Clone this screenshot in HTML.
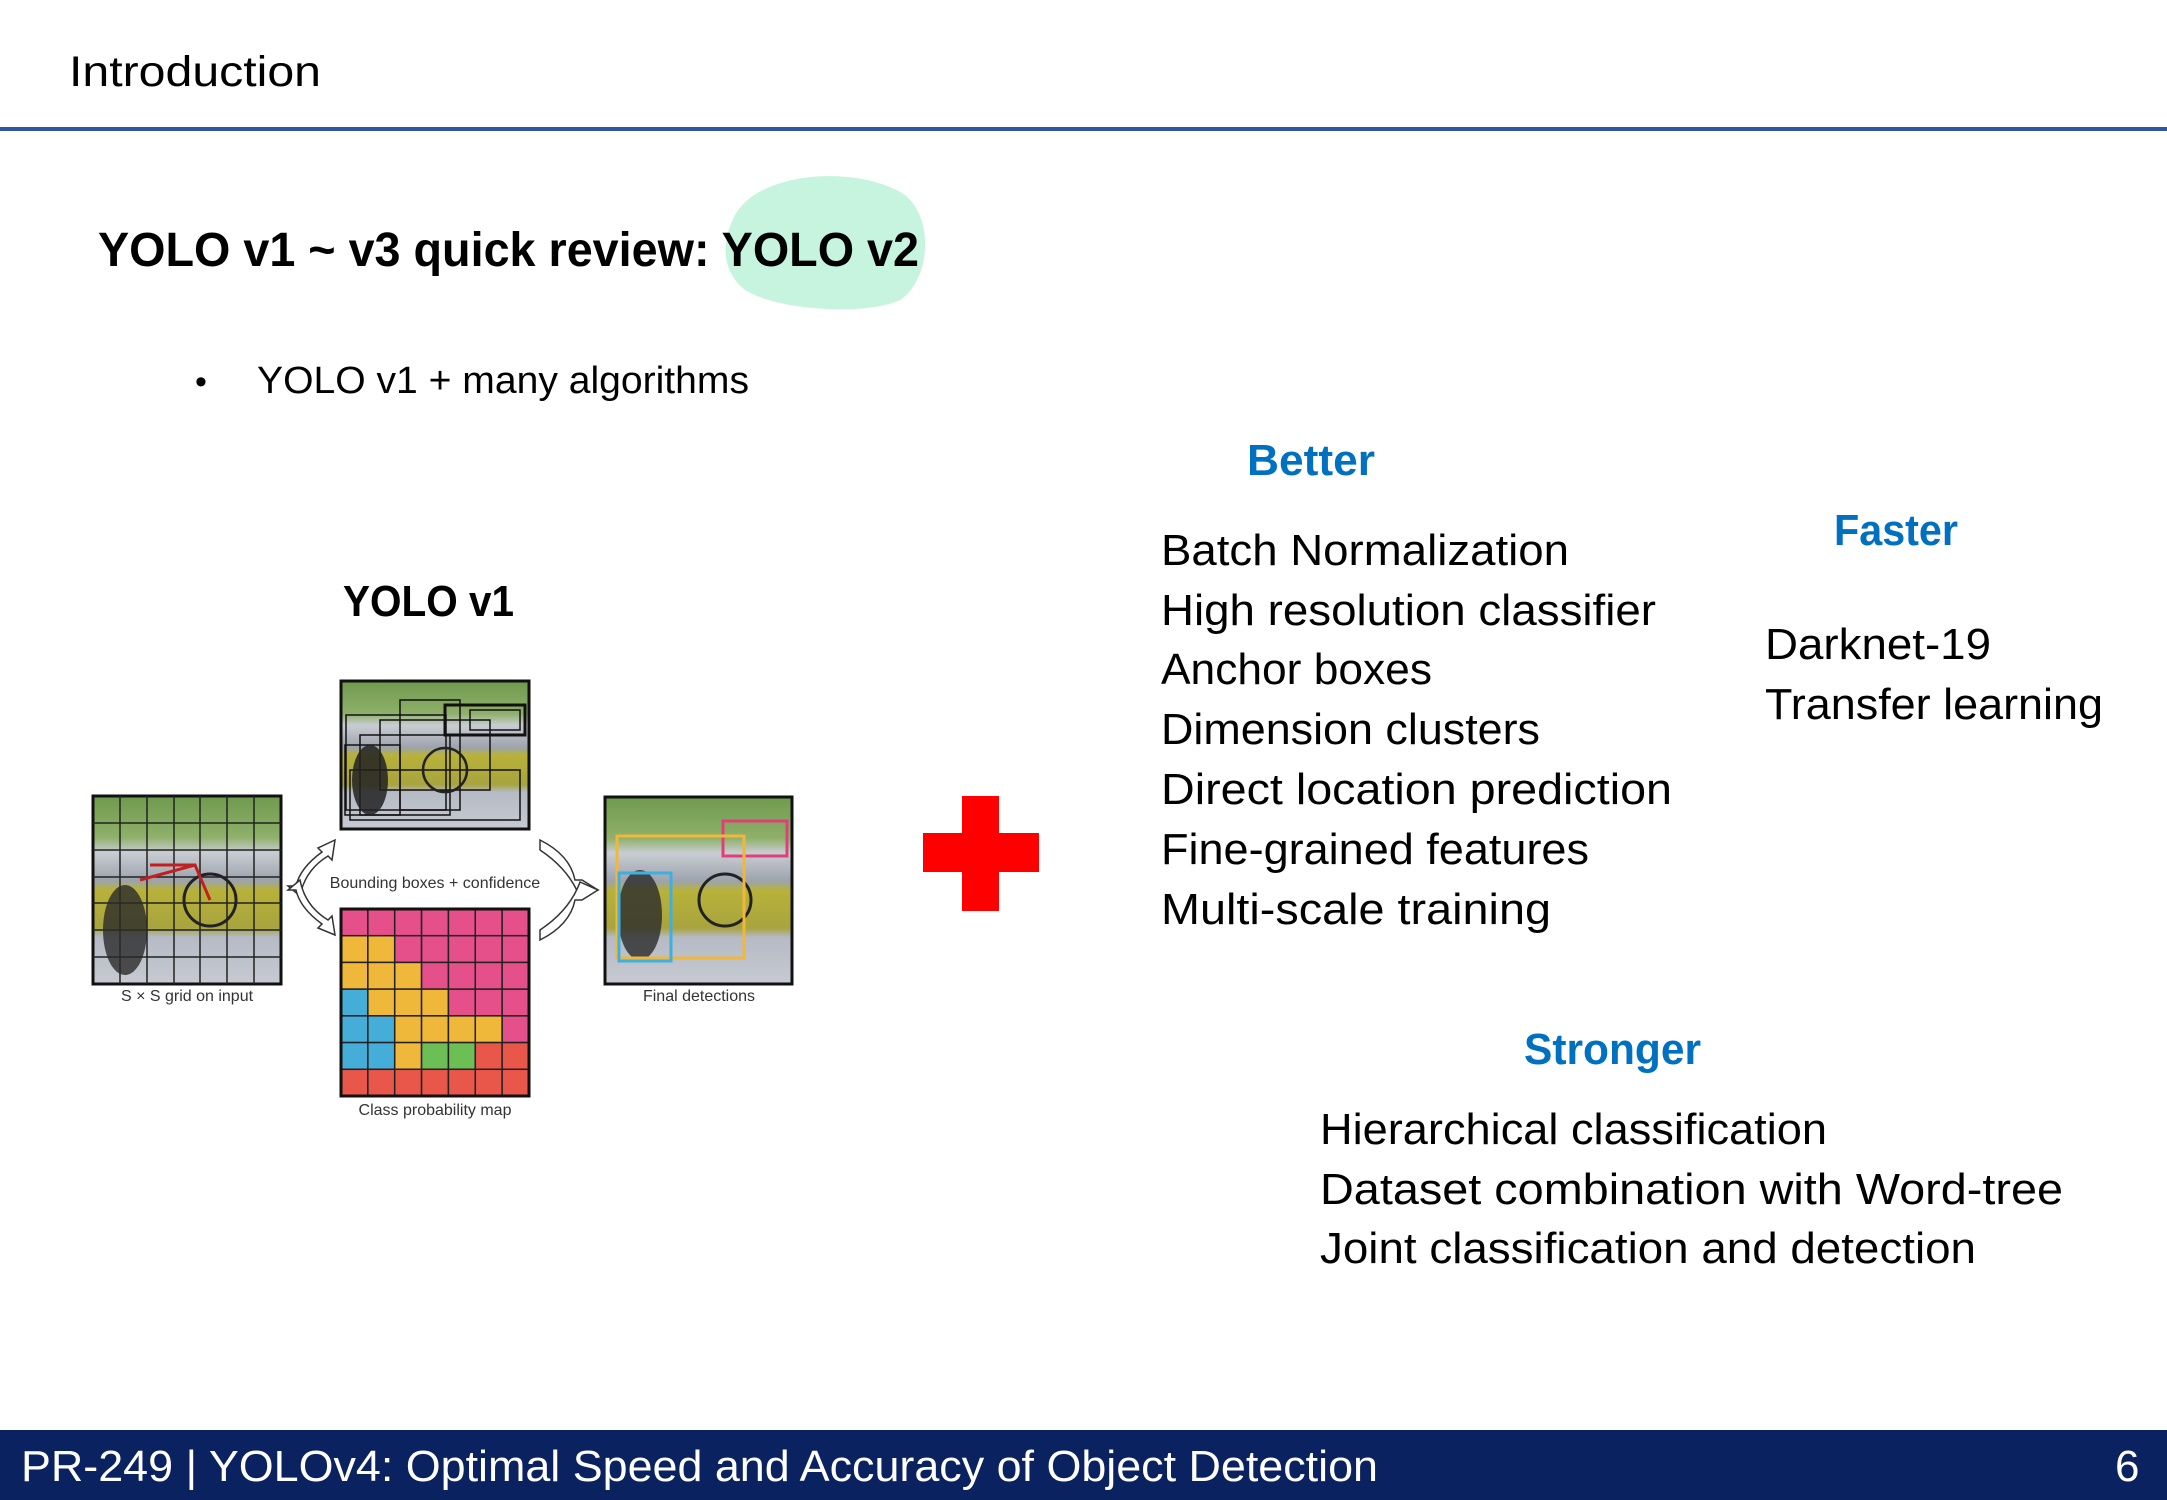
<!DOCTYPE html>
<html><head><meta charset="utf-8"><style>
html,body{margin:0;padding:0;background:#fff;}
svg{display:block;font-family:"Liberation Sans",sans-serif;}
</style></head><body>
<svg width="2167" height="1500" viewBox="0 0 2167 1500">
<defs>
<linearGradient id="photo" x1="0" y1="0" x2="0" y2="1">
<stop offset="0" stop-color="#6f9a4e"/><stop offset="0.22" stop-color="#8fb06a"/>
<stop offset="0.3" stop-color="#c9cdd3"/><stop offset="0.45" stop-color="#9da3ad"/>
<stop offset="0.5" stop-color="#b8b23a"/><stop offset="0.7" stop-color="#a8a43e"/>
<stop offset="0.75" stop-color="#b5bac4"/><stop offset="1" stop-color="#c6cad2"/>
</linearGradient>
</defs>
<text x="69" y="86" font-size="43" fill="#000" textLength="252" lengthAdjust="spacingAndGlyphs">Introduction</text>
<rect x="0" y="127" width="2167" height="4" fill="#2f55a4"/>

<path d="M735,215 C760,170 860,165 905,195 C935,220 930,280 900,300 C870,315 780,312 745,290 C720,270 722,240 735,215 Z" fill="#c6f4df"/>
<text x="98" y="266" font-size="48" font-weight="bold" fill="#000" textLength="821" lengthAdjust="spacingAndGlyphs">YOLO v1 ~ v3 quick review: YOLO v2</text>

<text x="195" y="393" font-size="34" fill="#000">•</text>
<text x="257" y="393" font-size="38" fill="#000" textLength="492" lengthAdjust="spacingAndGlyphs">YOLO v1 + many algorithms</text>

<text x="343" y="616" font-size="44" font-weight="bold" fill="#000" textLength="171" lengthAdjust="spacingAndGlyphs">YOLO v1</text>

<g>
 <g>
  <rect x="93" y="796" width="188" height="188" fill="url(#photo)" stroke="#111" stroke-width="3"/>
  <g stroke="#222" stroke-width="1.5">
   <line x1="120" y1="796" x2="120" y2="984"/><line x1="147" y1="796" x2="147" y2="984"/><line x1="174" y1="796" x2="174" y2="984"/><line x1="200" y1="796" x2="200" y2="984"/><line x1="227" y1="796" x2="227" y2="984"/><line x1="254" y1="796" x2="254" y2="984"/>
   <line x1="93" y1="823" x2="281" y2="823"/><line x1="93" y1="850" x2="281" y2="850"/><line x1="93" y1="877" x2="281" y2="877"/><line x1="93" y1="903" x2="281" y2="903"/><line x1="93" y1="930" x2="281" y2="930"/><line x1="93" y1="957" x2="281" y2="957"/>
  </g>
  <ellipse cx="125" cy="930" rx="22" ry="45" fill="#2a2a2a" opacity="0.8"/>
  <circle cx="210" cy="900" r="26" fill="none" stroke="#222" stroke-width="3"/>
  <path d="M140,880 L195,865 L210,900 M150,865 L195,865" stroke="#c02020" stroke-width="3" fill="none"/>
 </g>
 <text x="187" y="1001" font-size="16" fill="#333" text-anchor="middle">S × S grid on input</text>

 <g>
  <rect x="341" y="681" width="188" height="148" fill="url(#photo)" stroke="#111" stroke-width="3"/>
  <g fill="none" stroke="#111" stroke-width="1.5">
   <rect x="346" y="715" width="100" height="95"/><rect x="360" y="735" width="90" height="80"/><rect x="345" y="745" width="55" height="70"/>
   <rect x="445" y="705" width="80" height="30" stroke-width="3"/><rect x="470" y="710" width="50" height="20"/><rect x="380" y="720" width="110" height="70"/>
   <rect x="400" y="700" width="60" height="110"/><rect x="350" y="770" width="170" height="50"/>
  </g>
  <ellipse cx="370" cy="780" rx="18" ry="35" fill="#222" opacity="0.85"/>
  <circle cx="445" cy="770" r="22" fill="none" stroke="#222" stroke-width="2.5"/>
 </g>
 <text x="435" y="888" font-size="16" fill="#333" text-anchor="middle">Bounding boxes + confidence</text>

 <g id="cpm"></g>
 <text x="435" y="1115" font-size="16" fill="#333" text-anchor="middle">Class probability map</text>

 <g>
  <rect x="605" y="797" width="187" height="187" fill="url(#photo)" stroke="#111" stroke-width="3"/>
  <ellipse cx="640" cy="915" rx="22" ry="45" fill="#2a2a2a" opacity="0.8"/>
  <circle cx="725" cy="900" r="26" fill="none" stroke="#222" stroke-width="3"/>
  <rect x="723" y="821" width="64" height="35" fill="none" stroke="#e0407a" stroke-width="3"/>
  <rect x="617" y="836" width="127" height="122" fill="none" stroke="#f2b73a" stroke-width="3"/>
  <rect x="619" y="873" width="52" height="88" fill="none" stroke="#3fb0dd" stroke-width="3"/>
 </g>
 <text x="699" y="1001" font-size="16" fill="#333" text-anchor="middle">Final detections</text>

 <g fill="#fff" stroke="#333" stroke-width="1.5">
  <path d="M335,840 L318,848 L322,852 Q300,868 296,886 L288,886 L300,896 Q305,870 328,856 L332,860 Z"/>
  <path d="M335,935 L318,928 L322,924 Q300,908 296,890 L288,890 L300,880 Q305,906 328,920 L332,916 Z"/>
  <path d="M540,840 Q570,855 575,880 L582,880 L598,890 L580,898 Q570,870 540,850 Z"/>
  <path d="M540,940 Q570,925 575,900 L582,900 L598,890 L580,882 Q570,910 540,930 Z"/>
 </g>
</g>

<g>
 <rect x="962" y="796" width="37" height="115" fill="#ff0000"/>
 <rect x="923" y="833" width="116" height="39" fill="#ff0000"/>
</g>

<g fill="#0070c0" font-weight="bold" font-size="44">
 <text x="1247" y="475" textLength="128" lengthAdjust="spacingAndGlyphs">Better</text>
 <text x="1834" y="545" textLength="124" lengthAdjust="spacingAndGlyphs">Faster</text>
 <text x="1524" y="1064" textLength="177" lengthAdjust="spacingAndGlyphs">Stronger</text>
</g>

<g fill="#000" font-size="44" lengthAdjust="spacingAndGlyphs">
 <text x="1161" y="565" textLength="408" lengthAdjust="spacingAndGlyphs">Batch Normalization</text>
 <text x="1161" y="625" textLength="495" lengthAdjust="spacingAndGlyphs">High resolution classifier</text>
 <text x="1161" y="684" textLength="271" lengthAdjust="spacingAndGlyphs">Anchor boxes</text>
 <text x="1161" y="744" textLength="379" lengthAdjust="spacingAndGlyphs">Dimension clusters</text>
 <text x="1161" y="804" textLength="511" lengthAdjust="spacingAndGlyphs">Direct location prediction</text>
 <text x="1161" y="864" textLength="428" lengthAdjust="spacingAndGlyphs">Fine-grained features</text>
 <text x="1161" y="924" textLength="390" lengthAdjust="spacingAndGlyphs">Multi-scale training</text>
 <text x="1765" y="659" textLength="226" lengthAdjust="spacingAndGlyphs">Darknet-19</text>
 <text x="1765" y="719" textLength="338" lengthAdjust="spacingAndGlyphs">Transfer learning</text>
 <text x="1320" y="1144" textLength="507" lengthAdjust="spacingAndGlyphs">Hierarchical classification</text>
 <text x="1320" y="1204" textLength="743" lengthAdjust="spacingAndGlyphs">Dataset combination with Word-tree</text>
 <text x="1320" y="1263" textLength="656" lengthAdjust="spacingAndGlyphs">Joint classification and detection</text>
</g>

<rect x="0" y="1430" width="2167" height="70" fill="#0b2260"/>
<text x="21" y="1481" font-size="44" fill="#fff" textLength="1357" lengthAdjust="spacingAndGlyphs">PR-249 | YOLOv4: Optimal Speed and Accuracy of Object Detection</text>
<text x="2115" y="1481" font-size="44" fill="#fff">6</text>
</svg>
<script>
const cpmRows = ["PPPPPPP","YYPPPPP","YYYPPPP","BYYYPPP","BBYYYYP","BBYGGRR","RRRRRRR"];
const cpmColors = {P:"#e5508a",Y:"#f0b83a",B:"#45aed8",G:"#6cbf55",R:"#e8574a"};
const g = document.getElementById('cpm');
const ns = "http://www.w3.org/2000/svg";
const x0 = 341, y0 = 909, cw = 188/7, ch = 187/7;
cpmRows.forEach((row, r) => {
  [...row].forEach((c, i) => {
    const rc = document.createElementNS(ns, 'rect');
    rc.setAttribute('x', x0 + i*cw); rc.setAttribute('y', y0 + r*ch);
    rc.setAttribute('width', cw); rc.setAttribute('height', ch);
    rc.setAttribute('fill', cpmColors[c]); rc.setAttribute('stroke', '#222'); rc.setAttribute('stroke-width', '1.5');
    
    
    g.appendChild(rc);
  });
});
const border = document.createElementNS(ns, 'rect');
border.setAttribute('x', x0); border.setAttribute('y', y0); border.setAttribute('width', 188); border.setAttribute('height', 187);
border.setAttribute('fill', 'none'); border.setAttribute('stroke', '#111'); border.setAttribute('stroke-width', '3');


g.appendChild(border);
</script>
</body></html>
